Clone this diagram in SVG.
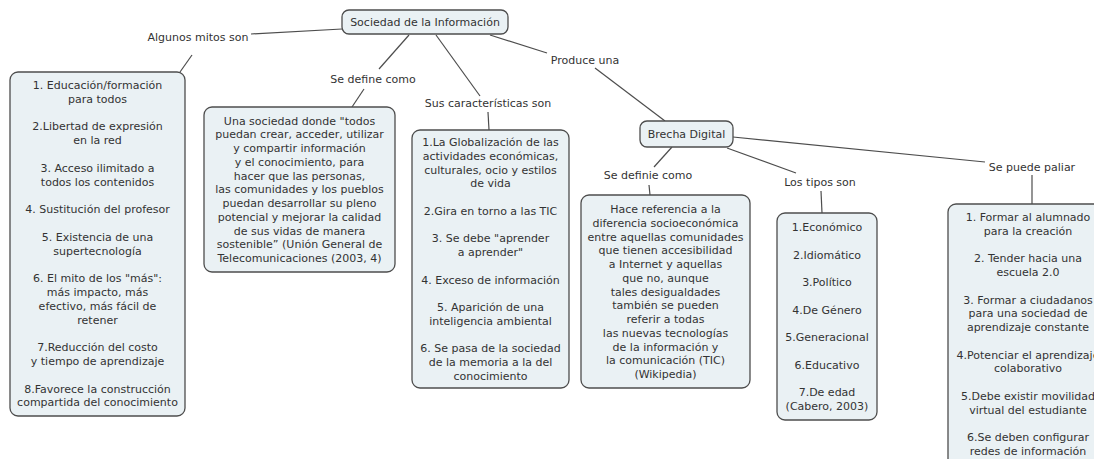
<svg xmlns="http://www.w3.org/2000/svg" width="1094" height="459" viewBox="0 0 1094 459">
<style>
.bg{fill:#ffffff}
.box{fill:#eaf1f4;stroke:#4d4d4d;stroke-width:1.3}
text{font-family:"DejaVu Sans",Verdana,sans-serif;font-size:11px;fill:#333333;text-anchor:middle}
.c line{stroke:#4d4d4d;stroke-width:1.2}
</style>
<rect class="bg" x="0" y="0" width="1094" height="459"/>
<g id="connectors" class="c">
<line x1="342" y1="29" x2="251" y2="34"/>
<line x1="192" y1="55" x2="180" y2="72"/>
<line x1="409" y1="35" x2="379" y2="69"/>
<line x1="364" y1="89" x2="352" y2="107"/>
<line x1="436" y1="35" x2="480" y2="96"/>
<line x1="488" y1="112" x2="489" y2="130"/>
<line x1="490" y1="35" x2="547" y2="53"/>
<line x1="595" y1="68" x2="665" y2="121"/>
<line x1="672" y1="147" x2="654" y2="167"/>
<line x1="649" y1="185" x2="650" y2="195"/>
<line x1="727" y1="148" x2="796" y2="173"/>
<line x1="821" y1="191" x2="822" y2="213"/>
<line x1="733" y1="137" x2="985" y2="162"/>
<line x1="1032" y1="175" x2="1032" y2="204"/>
</g>
<g id="labels">
<text x="198" y="41">Algunos mitos son</text>
<text x="373" y="83">Se define como</text>
<text x="488" y="107">Sus características son</text>
<text x="585" y="64">Produce una</text>
<text x="648" y="179">Se definie como</text>
<text x="820" y="186">Los tipos son</text>
<text x="1032" y="171">Se puede paliar</text>
</g>
<g id="root">
<rect class="box" x="342" y="10" width="166" height="24" rx="7"/>
<text x="425" y="26">Sociedad de la Información</text>
</g>
<g id="brecha">
<rect class="box" x="640" y="121" width="93" height="26" rx="7"/>
<text x="686.5" y="138">Brecha Digital</text>
</g>
<g id="mitos">
<rect class="box" x="10" y="72" width="175" height="344" rx="8"/>
<text x="97.5" y="89">1. Educación/formación</text>
<text x="97.5" y="102.8">para todos</text>
<text x="97.5" y="130.4">2.Libertad de expresión</text>
<text x="97.5" y="144.2">en la red</text>
<text x="97.5" y="171.8">3. Acceso ilimitado a</text>
<text x="97.5" y="185.6">todos los contenidos</text>
<text x="97.5" y="213.2">4. Sustitución del profesor</text>
<text x="97.5" y="240.8">5. Existencia de una</text>
<text x="97.5" y="254.6">supertecnología</text>
<text x="97.5" y="282.2">6. El mito de los "más":</text>
<text x="97.5" y="296">más impacto, más</text>
<text x="97.5" y="309.8">efectivo, más fácil de</text>
<text x="97.5" y="323.6">retener</text>
<text x="97.5" y="351.2">7.Reducción del costo</text>
<text x="97.5" y="365">y tiempo de aprendizaje</text>
<text x="97.5" y="392.6">8.Favorece la construcción</text>
<text x="97.5" y="406.4">compartida del conocimiento</text>
</g>
<g id="definicion">
<rect class="box" x="204" y="107" width="191" height="165" rx="8"/>
<text x="299.5" y="124.5">Una sociedad donde "todos</text>
<text x="299.5" y="138.25">puedan crear, acceder, utilizar</text>
<text x="299.5" y="152">y compartir información</text>
<text x="299.5" y="165.75">y el conocimiento, para</text>
<text x="299.5" y="179.5">hacer que las personas,</text>
<text x="299.5" y="193.25">las comunidades y los pueblos</text>
<text x="299.5" y="207">puedan desarrollar su pleno</text>
<text x="299.5" y="220.75">potencial y mejorar la calidad</text>
<text x="299.5" y="234.5">de sus vidas de manera</text>
<text x="299.5" y="248.25">sostenible” (Unión General de</text>
<text x="299.5" y="262">Telecomunicaciones (2003, 4)</text>
</g>
<g id="caracteristicas">
<rect class="box" x="412" y="130" width="157" height="258" rx="8"/>
<text x="490.5" y="146">1.La Globalización de las</text>
<text x="490.5" y="159.75">actividades económicas,</text>
<text x="490.5" y="173.5">culturales, ocio y estilos</text>
<text x="490.5" y="187.25">de vida</text>
<text x="490.5" y="214.75">2.Gira en torno a las TIC</text>
<text x="490.5" y="242.25">3. Se debe "aprender</text>
<text x="490.5" y="256">a aprender"</text>
<text x="490.5" y="283.5">4. Exceso de información</text>
<text x="490.5" y="311">5. Aparición de una</text>
<text x="490.5" y="324.75">inteligencia ambiental</text>
<text x="490.5" y="352.25">6. Se pasa de la sociedad</text>
<text x="490.5" y="366">de la memoria a la del</text>
<text x="490.5" y="379.75">conocimiento</text>
</g>
<g id="brecha-definicion">
<rect class="box" x="581" y="195" width="169" height="193" rx="8"/>
<text x="665.5" y="213">Hace referencia a la</text>
<text x="665.5" y="226.75">diferencia socioeconómica</text>
<text x="665.5" y="240.5">entre aquellas comunidades</text>
<text x="665.5" y="254.25">que tienen accesibilidad</text>
<text x="665.5" y="268">a Internet y aquellas</text>
<text x="665.5" y="281.75">que no, aunque</text>
<text x="665.5" y="295.5">tales desigualdades</text>
<text x="665.5" y="309.25">también se pueden</text>
<text x="665.5" y="323">referir a todas</text>
<text x="665.5" y="336.75">las nuevas tecnologías</text>
<text x="665.5" y="350.5">de la información y</text>
<text x="665.5" y="364.25">la comunicación (TIC)</text>
<text x="665.5" y="378">(Wikipedia)</text>
</g>
<g id="tipos">
<rect class="box" x="777" y="213" width="100" height="207" rx="8"/>
<text x="827" y="231">1.Económico</text>
<text x="827" y="258.5">2.Idiomático</text>
<text x="827" y="286">3.Político</text>
<text x="827" y="313.5">4.De Género</text>
<text x="827" y="341">5.Generacional</text>
<text x="827" y="368.5">6.Educativo</text>
<text x="827" y="396">7.De edad</text>
<text x="827" y="409.75">(Cabero, 2003)</text>
</g>
<g id="paliar">
<rect class="box" x="948" y="204" width="160" height="270" rx="8"/>
<text x="1028" y="221">1. Formar al alumnado</text>
<text x="1028" y="234.75">para la creación</text>
<text x="1028" y="262.25">2. Tender hacia una</text>
<text x="1028" y="276">escuela 2.0</text>
<text x="1028" y="303.5">3. Formar a ciudadanos</text>
<text x="1028" y="317.25">para una sociedad de</text>
<text x="1028" y="331">aprendizaje constante</text>
<text x="1028" y="358.5">4.Potenciar el aprendizaje</text>
<text x="1028" y="372.25">colaborativo</text>
<text x="1028" y="399.75">5.Debe existir movilidad</text>
<text x="1028" y="413.5">virtual del estudiante</text>
<text x="1028" y="441">6.Se deben configurar</text>
<text x="1028" y="454.75">redes de información</text>
</g>
</svg>
